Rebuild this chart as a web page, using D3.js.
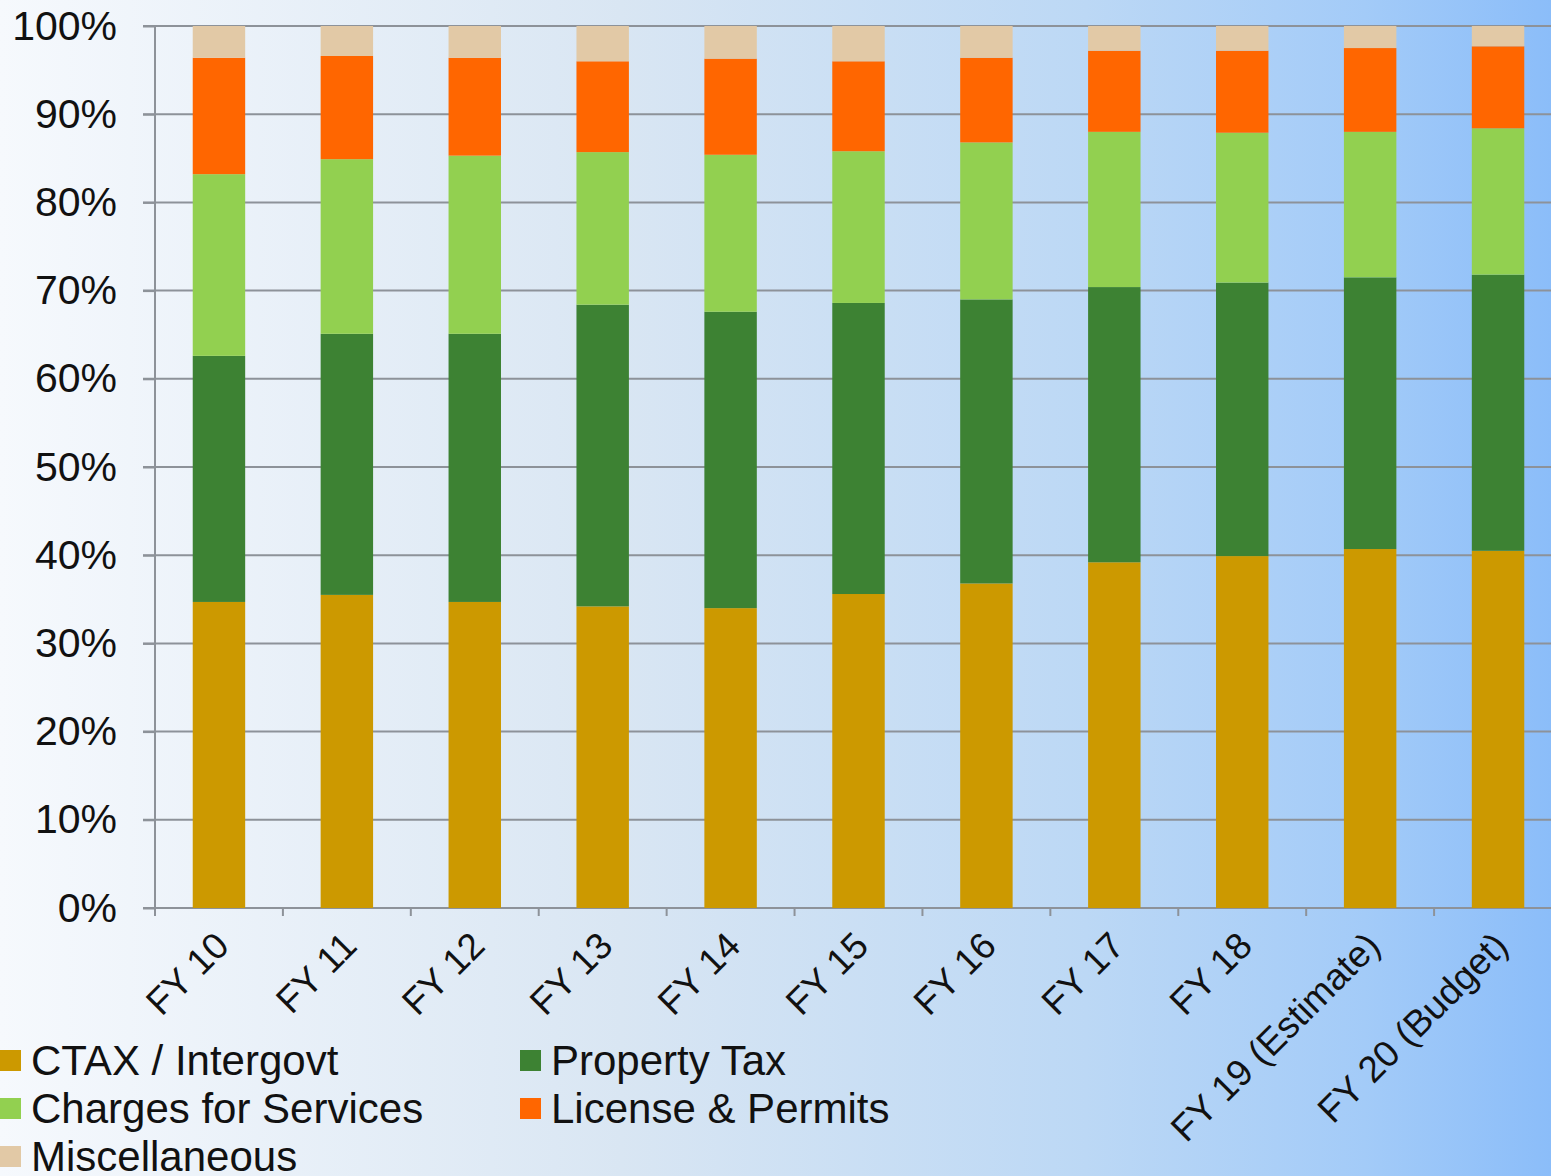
<!DOCTYPE html>
<html>
<head>
    <title></title>
    <meta charset="utf-8">
    <style>
        body { margin: 0; }
        svg { display: block; font-family: 'Liberation Sans', Arial, sans-serif; }
    </style>
</head>
<body>
<script src="https://d3js.org/d3.v7.min.js"></script>
<script>
    // fiscal years on the x axis
    var years = ['FY 10', 'FY 11', 'FY 12', 'FY 13', 'FY 14', 'FY 15', 'FY 16', 'FY 17', 'FY 18', 'FY 19 (Estimate)', 'FY 20 (Budget)'];

    // share of revenue per source, in percent
    var ctax     = [34.7, 35.5, 34.7, 34.2, 34.0, 35.6, 36.8, 39.2, 39.9, 40.7, 40.5];
    var property = [27.9, 29.6, 30.4, 34.2, 33.6, 33.0, 32.2, 31.2, 31.0, 30.8, 31.3];
    var charges  = [20.6, 19.8, 20.2, 17.3, 17.8, 17.2, 17.8, 17.6, 17.0, 16.5, 16.6];
    var license  = [13.2, 11.7, 11.1, 10.3, 10.9, 10.2,  9.6,  9.2,  9.3,  9.5,  9.3];
    var misc     = [ 3.6,  3.4,  3.6,  4.0,  3.7,  4.0,  3.6,  2.8,  2.8,  2.5,  2.3];

    var seriesNames = ['CTAX / Intergovt', 'Property Tax', 'Charges for Services', 'License & Permits', 'Miscellaneous'];
    var seriesColors = ['#cc9900', '#3d8233', '#92d050', '#ff6600', '#e2c9a6'];
    var yTicks = [0, 10, 20, 30, 40, 50, 60, 70, 80, 90, 100];

    var W = 1551, H = 1176;
    // plot box (note: "top" is reserved on window, so use prefixed names)
    var plotL = 155, plotR = 1562, plotT = 26, plotB = 908;
    var axisColor = '#8d9299';

    var rows = years.map(function (yr, i) {
        return { year: yr, s0: ctax[i], s1: property[i], s2: charges[i], s3: license[i], s4: misc[i] };
    });
    var stacked = d3.stack().keys(['s0', 's1', 's2', 's3', 's4'])(rows);

    var svg = d3.select('body').append('svg')
        .attr('width', W)
        .attr('height', H);

    // slide-like background: pale on the left, blue on the right
    var grad = svg.append('defs').append('linearGradient')
        .attr('id', 'bg').attr('x1', '0%').attr('x2', '100%').attr('y1', '0%').attr('y2', '0%');
    [['0%', '#f6f9fd'], ['40%', '#d9e6f3'], ['70%', '#bcd8f5'], ['88%', '#a3cbf8'], ['100%', '#8bbdf9']].forEach(function (s) {
        grad.append('stop').attr('offset', s[0]).attr('stop-color', s[1]);
    });
    svg.append('rect').attr('width', W).attr('height', H).attr('fill', 'url(#bg)');

    var x = d3.scaleBand().domain(years).range([plotL, plotR])
        .paddingInner(0.59).paddingOuter(0.295);
    var y = d3.scaleLinear().domain([0, 100]).range([plotB, plotT]);

    // gridlines
    svg.append('g').selectAll('line').data(yTicks).enter().append('line')
        .attr('x1', plotL - 12).attr('x2', W)
        .attr('y1', function (d) { return y(d); })
        .attr('y2', function (d) { return y(d); })
        .attr('stroke', axisColor).attr('stroke-width', 2);

    // stacked bars
    svg.append('g').selectAll('g').data(stacked).enter().append('g')
        .attr('fill', function (d, i) { return seriesColors[i]; })
        .selectAll('rect').data(function (d) { return d; }).enter().append('rect')
        .attr('x', function (d) { return x(d.data.year); })
        .attr('width', x.bandwidth())
        .attr('y', function (d) { return y(d[1]); })
        .attr('height', function (d) { return y(d[0]) - y(d[1]); });

    // y axis
    var yAxis = svg.append('g').attr('transform', 'translate(' + plotL + ',0)')
        .call(d3.axisLeft(y).tickValues(yTicks).tickSize(12).tickPadding(26)
            .tickFormat(function (d) { return d + '%'; }));
    yAxis.select('.domain').remove();
    yAxis.selectAll('.tick line').attr('stroke', axisColor).attr('stroke-width', 2);
    yAxis.selectAll('text').attr('font-size', 41).attr('fill', '#111')
        .attr('font-family', "'Liberation Sans', Arial, sans-serif");
    svg.append('line').attr('x1', plotL).attr('x2', plotL).attr('y1', plotT).attr('y2', plotB + 8)
        .attr('stroke', axisColor).attr('stroke-width', 2);

    // x axis ticks between the bands
    var gap = x.step() - x.bandwidth();
    var bounds = years.map(function (d) { return x(d) - gap / 2; });
    bounds.push(x(years[years.length - 1]) + x.bandwidth() + gap / 2);
    svg.append('g').selectAll('line').data(bounds).enter().append('line')
        .attr('x1', function (d) { return d; }).attr('x2', function (d) { return d; })
        .attr('y1', plotB).attr('y2', plotB + 8)
        .attr('stroke', axisColor).attr('stroke-width', 2);

    svg.append('g').selectAll('text').data(years).enter().append('text')
        .attr('transform', function (d) {
            return 'translate(' + (x(d) + x.bandwidth() / 2 + 12) + ',' + (plotB + 40) + ') rotate(-45)';
        })
        .attr('text-anchor', 'end')
        .attr('font-size', 37)
        .attr('fill', '#111')
        .text(function (d) { return d; });

    // legend
    var legendPos = [[0, 1060], [520, 1060], [0, 1108], [520, 1108], [0, 1156]];
    var lg = svg.append('g').selectAll('g').data(seriesNames).enter().append('g')
        .attr('transform', function (d, i) { return 'translate(' + legendPos[i][0] + ',' + legendPos[i][1] + ')'; });
    lg.append('rect').attr('x', 0).attr('y', -10).attr('width', 21).attr('height', 21)
        .attr('fill', function (d, i) { return seriesColors[i]; });
    lg.append('text').attr('x', 31).attr('y', 0).attr('dy', '0.35em')
        .attr('font-size', 42).attr('fill', '#111')
        .text(function (d) { return d; });
</script>
</body>
</html>
